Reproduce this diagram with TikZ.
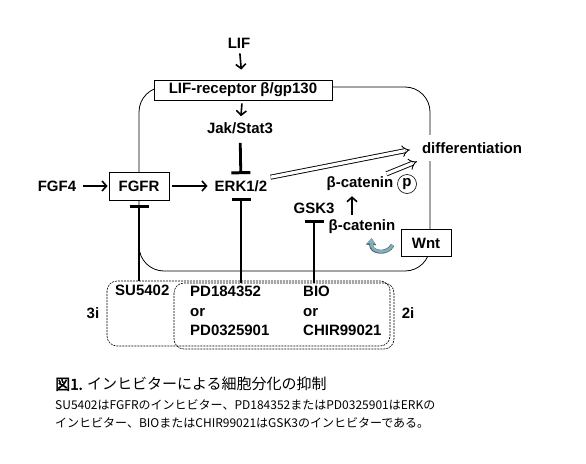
\documentclass[tikz,border=0pt]{standalone}
\usepackage{fontspec}
\setmainfont{Liberation Sans}
\newfontfamily\jpfont[AutoFakeBold=3]{Noto Sans CJK JP}
\usetikzlibrary{arrows.meta}

\definecolor{wntblue}{RGB}{130,175,188}

\begin{document}
\begin{tikzpicture}[x=1pt, y=-1pt,
    lbl/.style={font=\fontsize{15}{17}\selectfont\bfseries, inner sep=3pt},
    box/.style={lbl, draw, line width=0.8pt, fill=white, inner sep=0pt},
    act/.style={line width=1.6pt, -{Straight Barb[length=4.5pt, width=10pt, line width=1.6pt]}},
    inh/.style={line width=2.8pt, -{Bar[width=19pt, line width=3pt]}},
    hollow/.style={double, double distance=3.2pt, line width=0.9pt, -{Implies}},
    drugbox/.style={line width=0.6pt, rounded corners=10pt, dash pattern=on 2pt off 1pt},
    caption/.style={anchor=west, inner sep=0pt, font=\jpfont\fontsize{12}{14}\selectfont}]

  \useasboundingbox (0,0) rectangle (586,463);

  % Draw cell outline
  \draw[line width=0.8pt, rounded corners=25pt] (139,87) rectangle (430,271);

  % Signalling nodes
  \node[lbl] (lif) at (239,43) {LIF};
  \node[box, minimum width=178pt, minimum height=20pt] (lifr) at (243,90) {LIF-receptor β/gp130};
  \node[lbl] (jak) at (240,128) {Jak/Stat3};
  \node[lbl] (fgf) at (57,186) {FGF4};
  \node[box, minimum width=60pt, minimum height=28pt] (fgfr) at (139,186) {FGFR};
  \node[lbl] (erk) at (241,186) {ERK1/2};
  \node[lbl] (gsk) at (314,208) {GSK3};
  \node[lbl] (bcatp) at (360,184) {β-catenin};
  \node[circle, draw, line width=0.6pt, inner sep=0pt, minimum size=19pt,
        font=\fontsize{15}{17}\selectfont\bfseries] (pcirc) at (407,184) {p};
  \node[lbl] (bcat) at (362,227) {β-catenin};
  \node[box, minimum width=50pt, minimum height=27pt] (wnt) at (426,243) {Wnt};
  \node[lbl, fill=white, inner ysep=7pt] (diff) at (472,148) {differentiation};

  % Inhibitors
  \node[lbl, anchor=west] (su) at (112,290) {SU5402};
  \node[lbl, anchor=north west, align=left, font=\fontsize{15}{19.5}\selectfont\bfseries] (pd) at (187,283) {PD184352\\or\\PD0325901};
  \node[lbl, anchor=north west, align=left, font=\fontsize{15}{19.5}\selectfont\bfseries] (bio) at (300,283) {BIO\\or\\CHIR99021};
  \node[lbl] (three) at (93,313) {3i};
  \node[lbl] (two) at (408,313) {2i};
  \draw[drugbox] (107,281) rectangle (390,346);
  \draw[drugbox] (174,283) rectangle (394,349);

  % Activating arrows
  \draw[act, shorten <=2pt, shorten >=10pt] (lif) -- (lifr);
  \draw[act, shorten <=3pt, shorten >=3pt] (lifr) -- (jak);
  \draw[act, shorten <=4pt, shorten >=1pt] (fgf) -- (fgfr);
  \draw[act, shorten <=3pt, shorten >=4pt] (fgfr) -- (erk);
  \draw[act, shorten <=2pt, shorten >=2pt] ([xshift=-10pt]bcat.north) -- ([xshift=-8pt]bcatp.south);

  % Inhibiting lines
  \draw[inh, shorten <=6pt, shorten >=3pt] (jak) -- (erk);
  \draw[inh, shorten >=3pt] (pd.north -| erk) -- (erk);
  \draw[inh, shorten >=5pt] (su.north -| fgfr) -- (fgfr);
  \draw[inh, shorten >=3pt] (bio.north -| gsk) -- (gsk);

  % Towards differentiation
  \draw[hollow, shorten >=9pt] (erk.north east) -- (diff.west);
  \draw[hollow, shorten >=2pt] ([xshift=-10pt]bcatp.north east) -- (diff.south west);

  % Wnt acts on beta-catenin
  \draw[wntblue!60!black, line width=4pt, -{Triangle[length=7pt, width=10pt]}]
    ([xshift=-8pt, yshift=-2pt]wnt.west) .. controls ([xshift=-13pt, yshift=-12pt]wnt.west)
    and ([xshift=-30pt, yshift=-10pt]wnt.west) .. ([xshift=-29pt, yshift=5pt]wnt.west);
  \draw[wntblue, line width=2.6pt, -{Triangle[length=5.5pt, width=7.5pt]}]
    ([xshift=-8pt, yshift=-2pt]wnt.west) .. controls ([xshift=-13pt, yshift=-12pt]wnt.west)
    and ([xshift=-30pt, yshift=-10pt]wnt.west) .. ([xshift=-29pt, yshift=5pt]wnt.west);

  % Caption
  \node[caption, font=\jpfont\fontsize{15}{17}\selectfont] (cap1) at (55,384) {\textbf{図1.} インヒビターによる細胞分化の抑制};
  \node[caption] (cap2) at (55,405) {SU5402はFGFRのインヒビター、PD184352またはPD0325901はERKの};
  \node[caption] (cap3) at (55,423) {インヒビター、BIOまたはCHIR99021はGSK3のインヒビターである。};
\end{tikzpicture}
\end{document}
